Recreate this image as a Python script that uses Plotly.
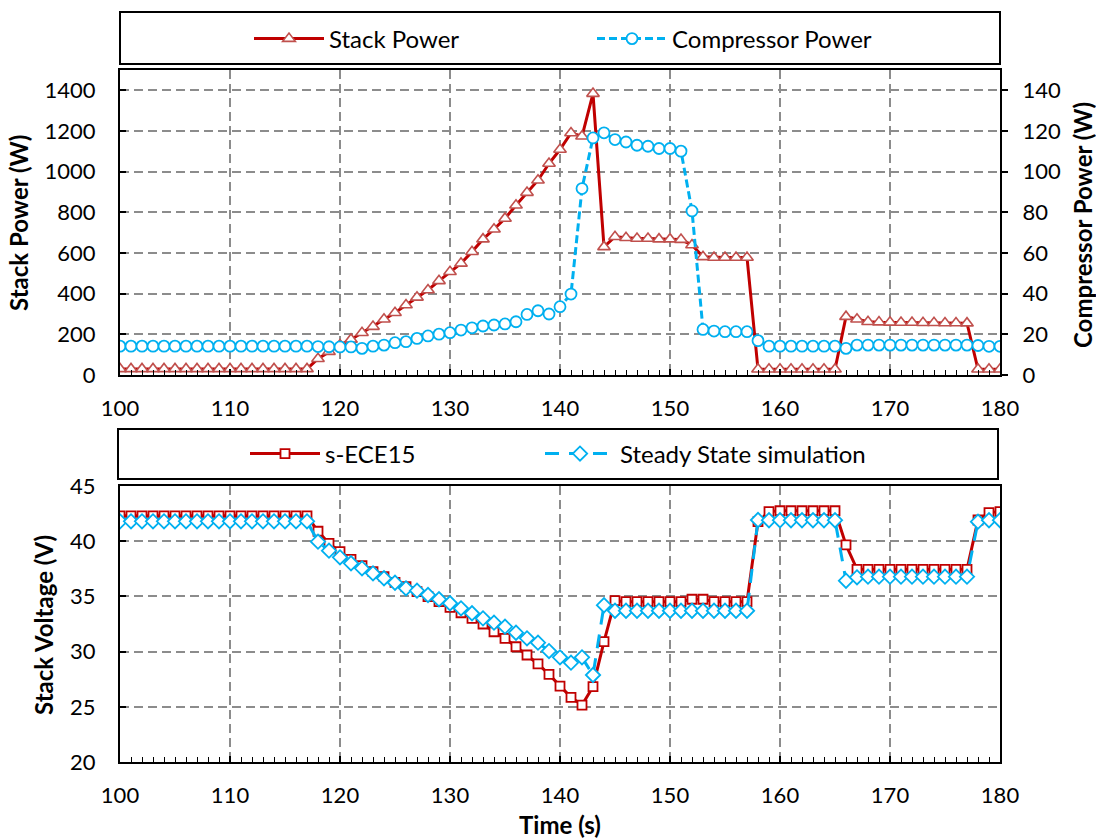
import plotly.graph_objects as go

# ---- data ----
time_s = [100, 101, 102, 103, 104, 105, 106, 107, 108, 109,
          110, 111, 112, 113, 114, 115, 116, 117, 118, 119,
          120, 121, 122, 123, 124, 125, 126, 127, 128, 129,
          130, 131, 132, 133, 134, 135, 136, 137, 138, 139,
          140, 141, 142, 143, 144, 145, 146, 147, 148, 149,
          150, 151, 152, 153, 154, 155, 156, 157, 158, 159,
          160, 161, 162, 163, 164, 165, 166, 167, 168, 169,
          170, 171, 172, 173, 174, 175, 176, 177, 178, 179, 180]

stack_power_w = [30, 30, 30, 30, 30, 30, 30, 30, 30, 30,
                 30, 30, 30, 30, 30, 30, 30, 30, 80, 115,
                 147, 175, 208, 238, 274, 306, 344, 382, 418, 463,
                 508, 549, 606, 668, 717, 770, 835, 897, 958, 1040,
                 1109, 1190, 1174, 1384, 630, 680, 675, 671, 671, 668,
                 668, 666, 639, 581, 578, 578, 578, 578, 28, 28,
                 28, 28, 28, 28, 28, 28, 287, 274, 262, 260,
                 259, 258, 258, 257, 257, 256, 256, 255, 28, 28, 28]

compressor_power_w = [14.2, 14.2, 14.2, 14.2, 14.2, 14.2, 14.2, 14.2, 14.2, 14.2,
                      14.2, 14.2, 14.2, 14.2, 14.2, 14.2, 14.2, 14.2, 14.0, 13.9,
                      13.8, 13.8, 13.1, 14.2, 14.7, 15.9, 16.4, 18.0, 19.2, 20.1,
                      20.8, 22.1, 23.2, 24.1, 24.6, 25.1, 26.2, 29.8, 31.6, 30.0,
                      33.6, 39.8, 91.7, 116.6, 119.1, 115.8, 114.6, 113.0, 112.5, 111.4,
                      111.4, 110.1, 80.7, 22.4, 21.6, 21.3, 21.3, 21.3, 16.9, 14.2,
                      14.2, 14.2, 14.2, 14.2, 14.2, 14.2, 13.1, 14.7, 14.7, 14.7,
                      14.7, 14.7, 14.7, 14.7, 14.7, 14.7, 14.7, 14.7, 14.5, 14.1, 14.1]

voltage_ece15_v = [42.3, 42.3, 42.3, 42.3, 42.3, 42.3, 42.3, 42.3, 42.3, 42.3,
                   42.3, 42.3, 42.3, 42.3, 42.3, 42.3, 42.3, 42.3, 40.9, 39.8,
                   39.05, 38.36, 37.78, 37.24, 36.79, 36.27, 35.88, 35.43, 34.98, 34.52,
                   34.01, 33.52, 33.01, 32.5, 31.8, 31.2, 30.44, 29.69, 28.88, 27.94,
                   26.88, 25.86, 25.16, 26.82, 30.9, 34.61, 34.52, 34.52, 34.52, 34.52,
                   34.52, 34.52, 34.74, 34.74, 34.52, 34.52, 34.52, 34.52, 41.77, 42.68,
                   42.76, 42.76, 42.76, 42.76, 42.76, 42.76, 39.66, 37.45, 37.45, 37.45,
                   37.45, 37.45, 37.45, 37.45, 37.45, 37.45, 37.45, 37.45, 41.92, 42.59, 42.68]

voltage_steady_v = [41.8, 41.8, 41.8, 41.8, 41.8, 41.8, 41.8, 41.8, 41.8, 41.8,
                    41.8, 41.8, 41.8, 41.8, 41.8, 41.8, 41.8, 41.8, 39.96, 39.14,
                    38.54, 38.0, 37.54, 37.09, 36.64, 36.24, 35.73, 35.52, 35.13, 34.74,
                    34.38, 33.92, 33.47, 33.01, 32.62, 32.26, 31.71, 31.2, 30.81, 30.05,
                    29.48, 29.0, 29.48, 27.88, 34.2, 33.7, 33.7, 33.7, 33.7, 33.7,
                    33.7, 33.7, 33.7, 33.7, 33.7, 33.7, 33.7, 33.7, 41.92, 41.9,
                    41.9, 41.9, 41.9, 41.9, 41.9, 41.9, 36.42, 36.73, 36.79, 36.79,
                    36.79, 36.79, 36.79, 36.79, 36.79, 36.79, 36.79, 36.79, 41.77, 41.9, 41.9]

x_ticks = [100, 110, 120, 130, 140, 150, 160, 170, 180]

# ---- styling ----
W, H = 1096, 838
FONT = "Lato"
RED = "#C00000"
RED_MK = "#C0504D"
BLUE = "#00B0F0"
GRID = "#8C8C8C"


def px_x(p):
    return p / W


def px_y(p):
    return 1 - p / H


fig = go.Figure()

fig.add_trace(go.Scatter(
    x=time_s, y=stack_power_w, name="Stack Power", mode="lines+markers",
    line=dict(color=RED, width=3),
    marker=dict(symbol="triangle-up", size=11, color="white",
                line=dict(color=RED_MK, width=1.6)),
    xaxis="x", yaxis="y", legend="legend"))

fig.add_trace(go.Scatter(
    x=time_s, y=compressor_power_w, name="Compressor Power", mode="lines+markers",
    line=dict(color=BLUE, width=3, dash="8px,4px"),
    marker=dict(symbol="circle", size=11, color="white",
                line=dict(color=BLUE, width=1.8)),
    xaxis="x", yaxis="y2", legend="legend2"))

fig.add_trace(go.Scatter(
    x=time_s, y=voltage_ece15_v, name="s-ECE15", mode="lines+markers",
    line=dict(color=RED, width=3),
    marker=dict(symbol="square", size=9, color="white",
                line=dict(color=RED, width=1.8)),
    xaxis="x2", yaxis="y3", legend="legend3"))

fig.add_trace(go.Scatter(
    x=time_s, y=voltage_steady_v, name="Steady State simulation", mode="lines+markers",
    line=dict(color=BLUE, width=3, dash="14px,10px"),
    marker=dict(symbol="diamond", size=11, color="white",
                line=dict(color=BLUE, width=1.8)),
    xaxis="x2", yaxis="y3", legend="legend4"))

x_dom = [px_x(120), px_x(1000)]
tick_font = dict(family=FONT, size=22, color="black")

common_x = dict(
    range=[100, 180], tickvals=x_ticks, showline=True, linecolor="black", linewidth=2,
    mirror=True, ticks="inside", ticklen=6, tickcolor="black", tickwidth=1.5,
    showgrid=True, gridcolor=GRID, gridwidth=1.5, griddash="9px,5px",
    minor=dict(dtick=1, ticks="inside", ticklen=5, tickcolor="black", tickwidth=1.3,
               showgrid=False),
    tickfont=tick_font, ticklabelstandoff=13, zeroline=False, domain=x_dom,
    automargin=False,
)


def single_legend(left_px, mid_px):
    # one legend per series so each entry sits at its own spot in the frame
    return dict(
        orientation="h", x=px_x(left_px), y=px_y(mid_px), xanchor="left", yanchor="middle",
        bgcolor="rgba(0,0,0,0)", borderwidth=0, itemwidth=70,
        font=dict(family=FONT, size=24, color="black"))


fig.update_layout(
    width=W, height=H, margin=dict(l=0, r=0, t=0, b=0),
    paper_bgcolor="white", plot_bgcolor="white", showlegend=True,
    font=dict(family=FONT, color="black"),
    xaxis=dict(anchor="y", **common_x),
    xaxis2=dict(anchor="y3", **common_x),
    yaxis=dict(
        domain=[px_y(375), px_y(70)], range=[0, 1500], tickvals=[0, 200, 400, 600, 800, 1000, 1200, 1400],
        showline=True, linecolor="black", linewidth=2, mirror=True,
        ticks="inside", ticklen=6, tickcolor="black", tickwidth=1.5,
        showgrid=True, gridcolor=GRID, gridwidth=1.5, griddash="9px,5px",
        tickfont=tick_font, ticklabelstandoff=18, zeroline=False, anchor="x",
        automargin=False),
    yaxis2=dict(
        domain=[px_y(375), px_y(70)], range=[0, 150], tickvals=[0, 20, 40, 60, 80, 100, 120, 140],
        overlaying="y", side="right", anchor="x",
        showline=True, linecolor="black", linewidth=2,
        ticks="outside", ticklen=6, tickcolor="black", tickwidth=1.5,
        showgrid=False, tickfont=tick_font, ticklabelstandoff=10, zeroline=False,
        automargin=False),
    yaxis3=dict(
        domain=[px_y(762), px_y(486)], range=[20, 45], tickvals=[20, 25, 30, 35, 40, 45],
        showline=True, linecolor="black", linewidth=2, mirror=True,
        ticks="inside", ticklen=6, tickcolor="black", tickwidth=1.5,
        showgrid=True, gridcolor=GRID, gridwidth=1.5, griddash="9px,5px",
        tickfont=tick_font, ticklabelstandoff=18, zeroline=False, anchor="x2",
        automargin=False),
    legend=single_legend(249, 39),
    legend2=single_legend(592, 39),
    legend3=single_legend(245, 454),
    legend4=single_legend(540, 454),
)

# legend frames
fig.add_shape(type="rect", xref="paper", yref="paper",
              x0=px_x(120), x1=px_x(1000), y0=px_y(64), y1=px_y(12),
              line=dict(color="black", width=2), fillcolor="rgba(0,0,0,0)", layer="below")
fig.add_shape(type="rect", xref="paper", yref="paper",
              x0=px_x(118), x1=px_x(998), y0=px_y(479), y1=px_y(429),
              line=dict(color="black", width=2), fillcolor="rgba(0,0,0,0)", layer="below")

# axis titles
title_font = dict(family=FONT, size=24, color="black")
fig.add_annotation(text="<b>Stack Power (W)</b>", x=px_x(18), y=px_y(223), xref="paper", yref="paper",
                   textangle=-90, showarrow=False, font=title_font, xanchor="center", yanchor="middle")
fig.add_annotation(text="<b>Compressor Power (W)</b>", x=px_x(1083), y=px_y(225), xref="paper", yref="paper",
                   textangle=-90, showarrow=False, font=title_font, xanchor="center", yanchor="middle")
fig.add_annotation(text="<b>Stack Voltage (V)</b>", x=px_x(43), y=px_y(625), xref="paper", yref="paper",
                   textangle=-90, showarrow=False, font=title_font, xanchor="center", yanchor="middle")
fig.add_annotation(text="<b>Time (s)</b>", x=px_x(560), y=px_y(824), xref="paper", yref="paper",
                   showarrow=False, font=title_font, xanchor="center", yanchor="middle")

fig.write_html("out.html")
